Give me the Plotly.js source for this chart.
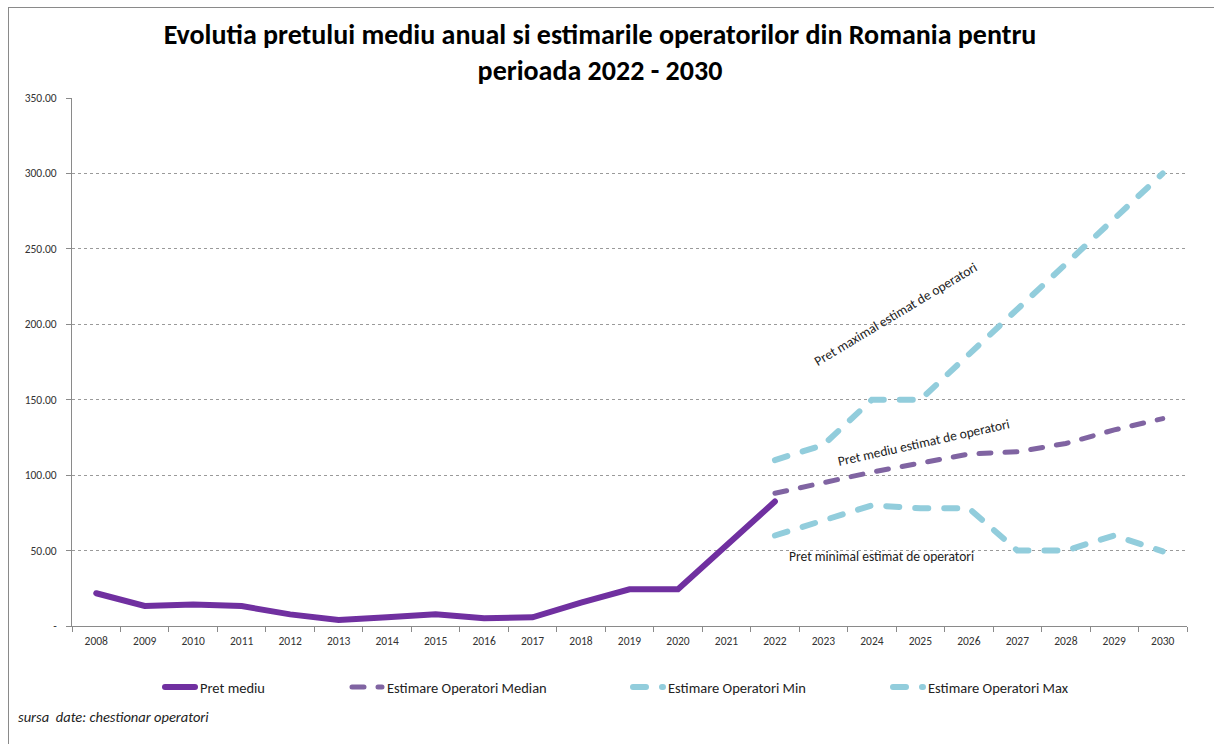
<!DOCTYPE html>
<html>
<head>
<meta charset="utf-8">
<script src="https://cdn.plot.ly/plotly-3.0.1.min.js"></script>
<style>
  html, body { margin: 0; padding: 0; background: #ffffff; }
  #frame { position: absolute; left: 8px; top: 7px; width: 1300px; height: 800px; border-left: 1px solid #8a8a8a; border-top: 1px solid #8a8a8a; }
  #chart { position: absolute; left: 0; top: 0; width: 1214px; height: 744px; }
  #chart .scatterlayer path.js-line, #chart .legendlines path { stroke-linecap: round; }
</style>
</head>
<body>
<div id="frame"></div>
<div id="chart"></div>
<script>
// ---- data ----
const years = ["2008","2009","2010","2011","2012","2013","2014","2015","2016","2017","2018","2019","2020","2021","2022","2023","2024","2025","2026","2027","2028","2029","2030"];
const histYears = ["2008","2009","2010","2011","2012","2013","2014","2015","2016","2017","2018","2019","2020","2021","2022"];
const pretMediu = [21.7, 13.3, 14.3, 13.2, 7.7, 4.0, 5.8, 7.7, 5.1, 5.8, 15.5, 24.3, 24.4, 53.0, 82.5];
const estYears = ["2022","2023","2024","2025","2026","2027","2028","2029","2030"];
const estMedian = [88, 95, 102, 108, 114, 115.5, 121, 130, 137.5];
const estMin = [60, 70, 80, 78, 78, 50, 50, 60, 49.5];
const estMax = [110, 120, 150, 150, 180, 210, 240, 270, 300];
const yTickVals = [0, 50, 100, 150, 200, 250, 300, 350];
const yTickText = ["-", "50.00", "100.00", "150.00", "200.00", "250.00", "300.00", "350.00"];
const seriesNames = ["Pret mediu", "Estimare Operatori Median", "Estimare Operatori Min", "Estimare Operatori Max"];
const titleText = "Evolutia pretului mediu anual si estimarile operatorilor din Romania pentru<br>perioada 2022 - 2030";
const labelMax = "Pret maximal estimat de operatori";
const labelMed = "Pret mediu estimat de operatori";
const labelMin = "Pret minimal estimat de operatori";
const sourceText = "<i>sursa  date: chestionar operatori</i>";

// ---- styling ----
const FONT = "Carlito, 'Liberation Sans', Arial, sans-serif";
const W = 1214, H = 744;
const L = 72, R = 27, T = 98, B = 118;
const px2x = p => (p - L) / (W - L - R);
const px2y = p => (H - B - p) / (H - T - B);

const traces = [
  { x: histYears, y: pretMediu, name: seriesNames[0], mode: "lines", type: "scatter",
    line: { color: "#7030A0", width: 6 }, legend: "legend" },
  { x: estYears, y: estMedian, name: seriesNames[1], mode: "lines", type: "scatter",
    line: { color: "#8064A2", width: 5, dash: "12px,14px" }, legend: "legend2" },
  { x: estYears, y: estMin, name: seriesNames[2], mode: "lines", type: "scatter",
    line: { color: "#92CDDC", width: 6, dash: "13px,16px" }, legend: "legend3" },
  { x: estYears, y: estMax, name: seriesNames[3], mode: "lines", type: "scatter",
    line: { color: "#92CDDC", width: 6, dash: "13px,16px" }, legend: "legend4" }
];

function leg(textStart) {
  return { xref: "container", yref: "container", x: (textStart - 40) / W, y: 1 - 687 / H,
    xanchor: "left", yanchor: "middle", orientation: "h", bgcolor: "rgba(0,0,0,0)",
    font: { family: FONT, size: 14.5, color: "#222" } };
}

const annFont = { family: FONT, size: 13.5, color: "#222" };

const layout = {
  width: W, height: H,
  margin: { l: L, r: R, t: T, b: B },
  paper_bgcolor: "rgba(0,0,0,0)",
  plot_bgcolor: "rgba(0,0,0,0)",
  font: { family: FONT, color: "#333" },
  title: { text: titleText, xref: "container", yref: "container", x: 600 / W, xanchor: "center",
    y: 1 - 44 / H, yanchor: "top",
    font: { family: FONT, size: 28, color: "#000", weight: "bold" } },
  xaxis: { type: "category", categoryorder: "array", categoryarray: years, range: [-0.5, years.length - 0.5],
    showgrid: false, showline: true, linecolor: "#8a8a8a", linewidth: 1,
    ticks: "outside", tickson: "boundaries", ticklen: 5, tickcolor: "#8a8a8a", ticklabelstandoff: 4,
    tickfont: { family: FONT, size: 11.5, color: "#333" }, fixedrange: true, zeroline: false },
  yaxis: { range: [0, 350], tickvals: yTickVals, ticktext: yTickText,
    showgrid: true, gridcolor: "#9a9a9a", griddash: "dot", gridwidth: 1,
    showline: true, linecolor: "#8a8a8a", linewidth: 1, ticks: "outside", ticklen: 5, tickcolor: "#8a8a8a",
    ticklabelstandoff: 7,
    tickfont: { family: FONT, size: 11.5, color: "#333" }, zeroline: false, fixedrange: true },
  showlegend: true,
  legend: leg(200),
  legend2: leg(387),
  legend3: leg(668),
  legend4: leg(928),
  annotations: [
    { text: labelMax, xref: "paper", yref: "paper", x: px2x(895), y: px2y(314), textangle: -31,
      showarrow: false, xanchor: "center", yanchor: "middle", font: annFont },
    { text: labelMed, xref: "paper", yref: "paper", x: px2x(924), y: px2y(443), textangle: -12.5,
      showarrow: false, xanchor: "center", yanchor: "middle", font: annFont },
    { text: labelMin, xref: "paper", yref: "paper", x: px2x(881), y: px2y(556), textangle: 0,
      showarrow: false, xanchor: "center", yanchor: "middle", font: annFont },
    { text: sourceText, xref: "paper", yref: "paper", x: px2x(16), y: px2y(717),
      showarrow: false, xanchor: "left", yanchor: "middle", font: { family: FONT, size: 14.5, color: "#222" } }
  ]
};

Plotly.newPlot("chart", traces, layout, { displayModeBar: false, staticPlot: true });
</script>
</body>
</html>
